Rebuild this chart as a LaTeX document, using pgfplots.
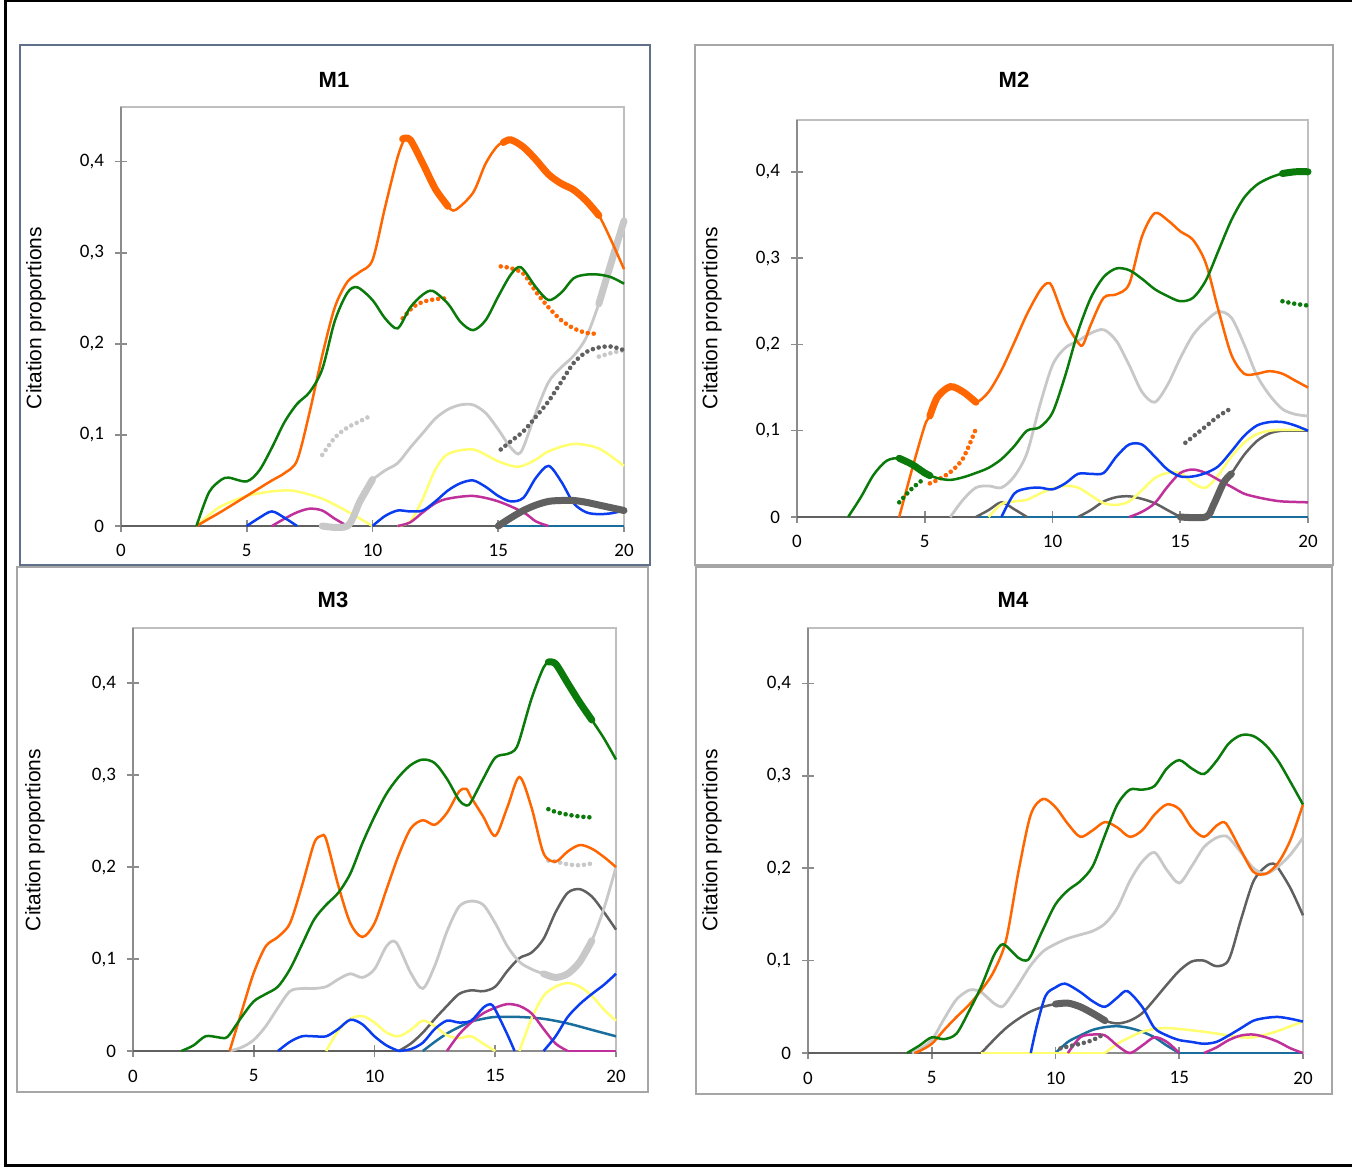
\documentclass[border=0pt]{standalone}
\usepackage{pgfplots}
\pgfplotsset{compat=1.18}
\usepackage{fontspec}
\setmainfont{Liberation Sans}
\newfontfamily\carlito{Carlito}
\definecolor{cO}{HTML}{FF6600}
\definecolor{cG}{HTML}{0A7A0A}
\definecolor{cL}{HTML}{C8C8C8}
\definecolor{cD}{HTML}{606060}
\definecolor{cY}{HTML}{FFFF70}
\definecolor{cB}{HTML}{0A3CF0}
\definecolor{cM}{HTML}{C0309A}
\definecolor{cT}{HTML}{1A6E9E}
\definecolor{frA}{HTML}{60708A}
\pgfplotsset{
  panel/.style={scale only axis, anchor=south west, clip=false,
    xmin=0, xmax=20, ymin=0, ymax=0.46,
    xtick={0,5,10,15,20}, xticklabels={0,5,10,15,20},
    ytick={0,0.1,0.2,0.3,0.4}, yticklabels={0,{0,1},{0,2},{0,3},{0,4}},
    tick align=center, major tick length=6pt,
    xtick pos=left, ytick pos=left,
    axis line style={draw=black!25, line width=1pt},
    tick style={draw=black!45, line width=0.8pt},
    ticklabel style={font=\carlito\fontsize{9.5}{11}\selectfont},
    xticklabel style={yshift=-2.8pt},
    yticklabel style={xshift=-2pt}},
  ln/.style={smooth, line width=1.25pt},
  O/.style={ln, draw=cO}, G/.style={ln, draw=cG}, L/.style={ln, draw=cL, line width=1.4pt},
  D/.style={ln, draw=cD}, Y/.style={ln, draw=cY}, B/.style={ln, draw=cB},
  M/.style={ln, draw=cM}, T/.style={ln, draw=cT},
  thk/.style={line width=3.5pt, line cap=round},
  dts/.style={line width=2.3pt, dash pattern=on 0pt off 3pt, line cap=round},
}
\newcommand{\axdeco}{\draw[black!45, line width=1pt] (rel axis cs:0,1) -- (rel axis cs:0,0) -- (rel axis cs:1,0);}
\begin{document}
\begin{tikzpicture}[x=0.5pt,y=0.5pt]
\path[use as bounding box] (0,0) rectangle (1352,1168);
\draw[line width=1.5pt] (1353,1167) -- (5,1167) -- (5,3) -- (1353,3);
% panel frames
\draw[draw=frA, line width=1pt] (20,1168-45) rectangle (650,1168-565);
\draw[draw=black!35, line width=1pt] (695,1168-45) rectangle (1333,1168-565);
\draw[draw=black!35, line width=1pt] (17,1168-567) rectangle (648,1168-1092);
\draw[draw=black!35, line width=1pt] (696,1168-567) rectangle (1332,1168-1094);
% titles and labels
\node[font=\bfseries\fontsize{11}{13}\selectfont] at (334,1168-80) {M1};
\node[font=\bfseries\fontsize{11}{13}\selectfont] at (1014,1168-80) {M2};
\node[font=\bfseries\fontsize{11}{13}\selectfont] at (333,1168-600) {M3};
\node[font=\bfseries\fontsize{11}{13}\selectfont] at (1013,1168-600) {M4};
\node[rotate=90, font=\fontsize{10.5}{12}\selectfont] at (36,1168-318) {Citation proportions};
\node[rotate=90, font=\fontsize{10.5}{12}\selectfont] at (712,1168-318) {Citation proportions};
\node[rotate=90, font=\fontsize{10.5}{12}\selectfont] at (35,1168-840) {Citation proportions};
\node[rotate=90, font=\fontsize{10.5}{12}\selectfont] at (712,1168-840) {Citation proportions};

% ================= M1 =================
\begin{axis}[panel, at={(60.5pt,321pt)}, width=251.5pt, height=209.5pt]
\axdeco
\addplot[D] coordinates {(0,0)(15,0)};
\addplot[T] coordinates {(15,0)(20,0)};
\addplot[Y] coordinates {(3,0)(3.5,0.012)(4,0.022)(5,0.033)(6,0.038)(6.5,0.039)(7,0.038)(8,0.03)(9,0.016)(10,0)};
\addplot[Y] coordinates {(11,0)(11.5,0.005)(12,0.03)(12.5,0.062)(13,0.079)(14,0.084)(15,0.071)(15.8,0.065)(16.5,0.073)(17,0.082)(18,0.09)(19,0.085)(20,0.066)};
\addplot[M] coordinates {(6,0)(6.5,0.008)(7,0.015)(7.5,0.019)(8,0.017)(8.5,0.008)(9,0)};
\addplot[M] coordinates {(11,0)(11.5,0.004)(12,0.015)(12.5,0.025)(13,0.03)(14,0.033)(15,0.027)(16,0.015)(16.5,0.005)(17,0)};
\addplot[B] coordinates {(5,0)(5.5,0.009)(6,0.016)(6.5,0.009)(7,0)};
\addplot[B] coordinates {(10,0)(10.5,0.011)(11,0.017)(11.5,0.016)(12,0.017)(12.5,0.027)(13,0.039)(13.5,0.047)(14,0.05)(14.5,0.043)(15,0.033)(15.5,0.027)(16,0.031)(16.5,0.053)(17,0.066)(17.5,0.049)(18,0.025)(18.5,0.015)(19,0.013)(19.5,0.014)(20,0.017)};
\addplot[L] coordinates {(10,0.051)(10.5,0.061)(11,0.069)(11.5,0.086)(12,0.102)(12.5,0.118)(13,0.128)(13.5,0.133)(14,0.133)(14.5,0.124)(15,0.106)(15.5,0.086)(15.9,0.081)(16.5,0.125)(17,0.158)(17.5,0.174)(18,0.187)(18.5,0.207)(19,0.244)};
\addplot[L, thk] coordinates {(8,0)(9,0)(9.5,0.027)(10,0.051)};
\addplot[L, thk] coordinates {(19,0.244)(19.5,0.29)(20,0.335)};
\addplot[L, dts] coordinates {(8,0.078)(8.5,0.097)(9,0.108)(9.5,0.115)(10,0.122)};
\addplot[L, dts] coordinates {(19,0.186)(19.5,0.19)(20,0.193)};
\addplot[O] coordinates {(3,0)(3.5,0.008)(4,0.016)(5,0.033)(6,0.05)(6.5,0.058)(7,0.072)(7.5,0.125)(8,0.187)(8.5,0.24)(9,0.268)(9.5,0.279)(10,0.292)(10.5,0.35)(11,0.405)(11.3,0.426)(11.5,0.424)(12,0.398)(12.5,0.37)(13,0.351)(13.3,0.347)(14,0.366)(14.5,0.398)(15,0.418)(15.5,0.424)(16,0.416)(16.5,0.402)(17,0.386)(17.5,0.376)(18,0.369)(18.5,0.357)(19,0.341)(19.5,0.313)(20,0.282)};
\addplot[O, thk] coordinates {(11.2,0.425)(11.5,0.424)(12,0.398)(12.5,0.37)(13,0.351)};
\addplot[O, thk] coordinates {(15.2,0.421)(15.5,0.424)(16,0.416)(16.5,0.402)(17,0.386)(17.5,0.376)(18,0.369)(18.5,0.357)(19,0.341)};
\addplot[O, dts] coordinates {(11.2,0.228)(11.6,0.24)(12,0.246)(12.5,0.249)(13,0.25)};
\addplot[O, dts] coordinates {(15.1,0.285)(15.5,0.283)(16,0.277)(16.5,0.257)(17,0.24)(17.5,0.226)(18,0.217)(18.5,0.212)(19,0.211)};
\addplot[G] coordinates {(3,0)(3.5,0.037)(4,0.051)(4.3,0.053)(5,0.049)(5.5,0.061)(6,0.086)(6.5,0.114)(7,0.134)(7.5,0.147)(8,0.172)(8.5,0.225)(9,0.256)(9.4,0.262)(10,0.248)(10.5,0.228)(11,0.217)(11.5,0.24)(12,0.254)(12.4,0.258)(13,0.244)(13.5,0.224)(14,0.215)(14.5,0.226)(15,0.252)(15.5,0.276)(15.9,0.284)(16.5,0.262)(17,0.248)(17.5,0.256)(18,0.272)(18.5,0.276)(19,0.276)(19.5,0.273)(20,0.266)};
\addplot[D, thk] coordinates {(15,0)(15.5,0.009)(16,0.017)(16.5,0.023)(17,0.027)(17.5,0.028)(18,0.028)(18.5,0.026)(19,0.023)(19.5,0.02)(20,0.017)};
\addplot[D, dts] coordinates {(15.1,0.084)(15.5,0.093)(16,0.104)(16.5,0.12)(17,0.137)(17.5,0.158)(18,0.179)(18.5,0.191)(19,0.196)(19.5,0.197)(20,0.193)};
\end{axis}

% ================= M2 =================
\begin{axis}[panel, at={(398.5pt,325.5pt)}, width=255.5pt, height=198.5pt]
\axdeco
\addplot[D] coordinates {(0,0)(7,0)};
\addplot[T] coordinates {(7,0)(20,0)};
\addplot[D] coordinates {(7,0)(7.5,0.008)(8,0.017)(8.5,0.009)(9,0)};
\addplot[D] coordinates {(11,0)(11.5,0.008)(12,0.018)(12.5,0.023)(13,0.024)(13.5,0.021)(14,0.016)(14.5,0.008)(15,0)};
\addplot[D] coordinates {(17,0.05)(17.5,0.072)(18,0.088)(18.5,0.097)(19,0.1)(19.5,0.1)(20,0.1)};
\addplot[Y] coordinates {(7.5,0)(8,0.015)(8.5,0.018)(9,0.02)(9.5,0.027)(10,0.033)(10.5,0.036)(11,0.034)(11.5,0.025)(12,0.016)(12.5,0.014)(13,0.018)(13.5,0.031)(14,0.045)(14.5,0.051)(15,0.051)(15.5,0.039)(16,0.034)(16.5,0.049)(17,0.07)(17.5,0.086)(18,0.096)(18.5,0.1)(19,0.101)(20,0.101)};
\addplot[M] coordinates {(13,0)(13.5,0.006)(14,0.016)(14.5,0.035)(15,0.051)(15.5,0.055)(16,0.051)(16.5,0.043)(17,0.035)(17.5,0.027)(18,0.023)(18.5,0.02)(19,0.018)(20,0.017)};
\addplot[B] coordinates {(8,0)(8.5,0.027)(9,0.033)(9.5,0.034)(10,0.032)(10.5,0.039)(11,0.05)(11.5,0.05)(12,0.051)(12.5,0.07)(13,0.084)(13.5,0.084)(14,0.07)(14.5,0.055)(15,0.047)(15.5,0.047)(16,0.051)(16.5,0.059)(17,0.076)(17.5,0.094)(18,0.106)(18.5,0.11)(19,0.11)(19.5,0.106)(20,0.1)};
\addplot[L] coordinates {(6,0)(6.5,0.02)(7,0.034)(7.5,0.036)(8,0.034)(8.5,0.047)(9,0.074)(9.5,0.129)(10,0.176)(10.5,0.196)(11,0.204)(11.5,0.213)(12,0.217)(12.5,0.204)(13,0.176)(13.5,0.145)(14,0.133)(14.5,0.153)(15,0.184)(15.5,0.211)(16,0.227)(16.5,0.238)(17,0.231)(17.5,0.2)(18,0.164)(18.5,0.141)(19,0.125)(19.5,0.119)(20,0.117)};
\addplot[O] coordinates {(4,0)(4.5,0.055)(5,0.106)(5.2,0.117)(5.5,0.139)(6,0.151)(6.5,0.145)(7,0.133)(7.5,0.145)(8,0.17)(8.5,0.202)(9,0.235)(9.5,0.262)(9.8,0.271)(10,0.266)(10.5,0.227)(11,0.202)(11.2,0.2)(11.5,0.223)(12,0.254)(12.5,0.258)(13,0.27)(13.5,0.325)(14,0.352)(14.5,0.344)(15,0.331)(15.5,0.321)(16,0.294)(16.5,0.239)(17,0.188)(17.5,0.166)(18,0.166)(18.5,0.169)(19,0.166)(19.5,0.158)(20,0.15)};
\addplot[O, thk] coordinates {(5.2,0.117)(5.5,0.139)(6,0.151)(6.5,0.145)(7,0.133)};
\addplot[O, dts] coordinates {(5.2,0.039)(5.5,0.043)(6,0.052)(6.5,0.068)(7,0.102)};
\addplot[G] coordinates {(2,0)(2.5,0.023)(3,0.049)(3.5,0.065)(4,0.068)(4.5,0.061)(5,0.051)(5.5,0.045)(6,0.043)(6.5,0.046)(7,0.051)(7.5,0.057)(8,0.067)(8.5,0.082)(9,0.1)(9.5,0.104)(10,0.121)(10.5,0.164)(11,0.215)(11.5,0.254)(12,0.278)(12.5,0.288)(13,0.286)(13.5,0.276)(14,0.264)(14.5,0.256)(15,0.25)(15.5,0.254)(16,0.274)(16.5,0.309)(17,0.344)(17.5,0.37)(18,0.385)(18.5,0.393)(19,0.398)(19.5,0.4)(20,0.4)};
\addplot[G, thk] coordinates {(4,0.068)(4.5,0.061)(5,0.051)(5.2,0.048)};
\addplot[G, thk] coordinates {(19,0.398)(19.5,0.4)(20,0.4)};
\addplot[G, dts] coordinates {(4,0.017)(4.5,0.033)(5,0.045)};
\addplot[G, dts] coordinates {(19,0.25)(19.5,0.247)(20,0.245)};
\addplot[D, thk] coordinates {(15,0)(16,0)(16.3,0.014)(16.7,0.04)(17,0.05)};
\addplot[D, dts] coordinates {(15.2,0.086)(16,0.105)(16.5,0.117)(17,0.126)};
\end{axis}

% ================= M3 =================
\begin{axis}[panel, at={(66.5pt,58.5pt)}, width=241.5pt, height=211.5pt]
\axdeco
\addplot[D] coordinates {(0,0)(11,0)};
\addplot[D] coordinates {(11,0)(11.5,0.008)(12,0.02)(12.5,0.035)(13,0.049)(13.5,0.062)(14,0.066)(14.5,0.065)(15,0.07)(15.5,0.087)(16,0.101)(16.5,0.107)(17,0.122)(17.5,0.151)(18,0.172)(18.5,0.176)(19,0.168)(19.5,0.151)(20,0.132)};
\addplot[T] coordinates {(12,0)(12.5,0.01)(13,0.019)(13.5,0.026)(14,0.032)(14.5,0.035)(15,0.037)(16,0.037)(17,0.035)(18,0.03)(19,0.023)(20,0.016)};
\addplot[Y] coordinates {(8,0)(8.5,0.022)(9,0.035)(9.5,0.038)(10,0.031)(10.5,0.02)(11,0.016)(11.5,0.023)(12,0.033)(12.5,0.027)(13,0.017)(13.5,0.014)(14,0.016)(14.5,0.008)(15,0)};
\addplot[Y] coordinates {(16,0)(16.5,0.035)(17,0.06)(17.5,0.07)(18,0.074)(18.5,0.07)(19,0.06)(19.5,0.045)(20,0.033)};
\addplot[M] coordinates {(13,0)(13.5,0.018)(14,0.031)(14.5,0.041)(15,0.047)(15.5,0.051)(16,0.049)(16.5,0.041)(17,0.024)(17.5,0.008)(18,0)};
\addplot[M] coordinates {(18,0)(20,0)};
\addplot[B] coordinates {(6,0)(6.5,0.01)(7,0.016)(7.5,0.016)(8,0.016)(8.5,0.024)(9,0.034)(9.5,0.029)(10,0.016)(10.5,0.006)(11,0)};
\addplot[B] coordinates {(11,0)(11.5,0.002)(12,0.009)(12.5,0.024)(13,0.033)(13.5,0.031)(14,0.033)(14.5,0.047)(14.8,0.051)(15,0.045)(15.5,0.018)(15.8,0)};
\addplot[B] coordinates {(17,0)(17.5,0.016)(18,0.037)(18.5,0.051)(19,0.062)(19.5,0.072)(20,0.084)};
\addplot[L] coordinates {(4,0)(4.5,0.004)(5,0.012)(5.5,0.027)(6,0.047)(6.5,0.065)(7,0.068)(7.5,0.068)(8,0.07)(8.5,0.078)(9,0.084)(9.5,0.08)(10,0.089)(10.5,0.114)(10.9,0.118)(11.5,0.085)(12,0.068)(12.5,0.093)(13,0.13)(13.5,0.157)(14,0.163)(14.5,0.159)(15,0.139)(15.5,0.114)(16,0.097)(16.5,0.089)(17,0.084)(17.5,0.08)(18,0.084)(18.5,0.097)(19,0.12)(19.5,0.155)(20,0.2)};
\addplot[L, thk] coordinates {(17,0.084)(17.5,0.08)(18,0.084)(18.5,0.097)(19,0.12)};
\addplot[L, dts] coordinates {(17.2,0.207)(17.5,0.206)(18,0.203)(18.5,0.202)(19,0.204)};
\addplot[O] coordinates {(4,0)(4.5,0.043)(5,0.085)(5.5,0.114)(6,0.124)(6.5,0.139)(7,0.18)(7.5,0.226)(7.8,0.234)(8,0.23)(8.5,0.18)(9,0.139)(9.5,0.124)(10,0.139)(10.5,0.176)(11,0.213)(11.5,0.242)(12,0.251)(12.5,0.246)(13,0.259)(13.5,0.282)(13.8,0.285)(14,0.276)(14.5,0.255)(15,0.234)(15.5,0.265)(16,0.298)(16.5,0.265)(17,0.215)(17.5,0.206)(18,0.217)(18.5,0.224)(19,0.22)(19.5,0.211)(20,0.2)};
\addplot[G] coordinates {(2,0)(2.5,0.006)(3,0.016)(3.5,0.015)(3.8,0.014)(4,0.018)(4.5,0.037)(5,0.054)(5.5,0.062)(6,0.07)(6.5,0.089)(7,0.116)(7.5,0.143)(8,0.159)(8.5,0.172)(9,0.193)(9.5,0.226)(10,0.255)(10.5,0.28)(11,0.298)(11.5,0.311)(12,0.317)(12.5,0.313)(13,0.296)(13.5,0.273)(13.8,0.267)(14,0.271)(14.5,0.296)(15,0.319)(15.5,0.323)(15.8,0.327)(16,0.338)(16.5,0.383)(17,0.417)(17.3,0.424)(17.5,0.421)(18,0.4)(18.5,0.379)(19,0.36)(19.5,0.34)(20,0.317)};
\addplot[G, thk] coordinates {(17.2,0.423)(17.5,0.421)(18,0.4)(18.5,0.379)(19,0.36)};
\addplot[G, dts] coordinates {(17.2,0.263)(17.5,0.26)(18,0.257)(18.5,0.255)(19,0.254)};
\end{axis}

% ================= M4 =================
\begin{axis}[panel, at={(404pt,57.5pt)}, width=247.5pt, height=212.5pt]
\axdeco
\addplot[D] coordinates {(0,0)(7,0)};
\addplot[D] coordinates {(7,0)(7.5,0.014)(8,0.027)(8.5,0.037)(9,0.045)(9.5,0.05)(10,0.053)(10.5,0.054)(11,0.05)(11.5,0.043)(12,0.035)(12.5,0.032)(13,0.035)(13.5,0.043)(14,0.058)(14.5,0.074)(15,0.089)(15.5,0.099)(16,0.1)(16.5,0.094)(17,0.101)(17.5,0.145)(18,0.186)(18.5,0.202)(18.8,0.205)(19,0.2)(19.5,0.178)(20,0.149)};
\addplot[T] coordinates {(10,0)(10.5,0.012)(11,0.019)(11.5,0.025)(12,0.028)(12.5,0.029)(13,0.027)(13.5,0.023)(14,0.017)(14.5,0.008)(15,0)};
\addplot[T] coordinates {(15,0)(20,0)};
\addplot[Y] coordinates {(7,0)(12,0)};
\addplot[Y] coordinates {(12,0)(12.5,0.01)(13,0.017)(13.5,0.023)(14,0.026)(14.5,0.027)(15,0.026)(16,0.023)(17,0.019)(17.5,0.017)(18,0.017)(18.5,0.02)(19,0.024)(19.5,0.029)(20,0.034)};
\addplot[M] coordinates {(10.5,0)(11,0.017)(11.5,0.02)(12,0.019)(12.5,0.008)(13,0)(13.5,0.008)(14,0.017)(14.5,0.012)(15,0)};
\addplot[M] coordinates {(16,0)(16.5,0.006)(17,0.014)(17.5,0.019)(18,0.02)(18.5,0.017)(19,0.012)(19.5,0.005)(20,0)};
\addplot[B] coordinates {(9,0)(9.25,0.03)(9.6,0.062)(10,0.071)(10.4,0.075)(11,0.066)(11.5,0.056)(12,0.05)(12.5,0.06)(12.9,0.067)(13.5,0.05)(14,0.027)(14.5,0.019)(15,0.014)(15.5,0.012)(16,0.01)(16.5,0.012)(17,0.019)(17.5,0.027)(18,0.035)(18.5,0.038)(19,0.039)(19.5,0.037)(20,0.034)};
\addplot[L] coordinates {(4.2,0)(4.5,0.004)(5,0.014)(5.5,0.037)(6,0.058)(6.5,0.068)(6.8,0.068)(7,0.066)(7.5,0.054)(7.8,0.05)(8,0.054)(8.5,0.074)(9,0.095)(9.5,0.11)(10,0.118)(10.5,0.124)(11,0.128)(11.5,0.132)(12,0.14)(12.5,0.157)(13,0.186)(13.5,0.207)(14,0.217)(14.5,0.198)(15,0.184)(15.5,0.202)(16,0.223)(16.5,0.233)(16.8,0.235)(17,0.233)(17.5,0.217)(18,0.2)(18.5,0.194)(19,0.202)(19.5,0.215)(20,0.233)};
\addplot[O] coordinates {(4.3,0)(4.5,0.002)(5,0.01)(5.5,0.025)(6,0.039)(6.5,0.052)(7,0.068)(7.5,0.088)(8,0.122)(8.5,0.196)(9,0.258)(9.5,0.275)(10,0.266)(10.5,0.248)(11,0.234)(11.5,0.241)(12,0.25)(12.5,0.244)(13,0.234)(13.5,0.241)(14,0.258)(14.5,0.269)(15,0.264)(15.5,0.244)(16,0.234)(16.5,0.246)(16.8,0.25)(17,0.244)(17.5,0.219)(18,0.196)(18.5,0.194)(19,0.206)(19.5,0.231)(20,0.269)};
\addplot[G] coordinates {(4,0)(4.5,0.008)(5,0.017)(5.5,0.015)(6,0.021)(6.5,0.045)(7,0.072)(7.5,0.105)(7.8,0.117)(8,0.116)(8.5,0.103)(8.8,0.1)(9,0.105)(9.5,0.134)(10,0.161)(10.5,0.176)(11,0.186)(11.5,0.202)(12,0.236)(12.5,0.269)(13,0.285)(13.5,0.285)(14,0.289)(14.5,0.308)(15,0.317)(15.5,0.308)(16,0.302)(16.5,0.316)(17,0.335)(17.5,0.344)(18,0.343)(18.5,0.333)(19,0.316)(19.5,0.293)(20,0.269)};
\addplot[D, thk] coordinates {(10,0.053)(10.5,0.054)(11,0.05)(11.5,0.043)(12,0.035)};
\addplot[D, dts] coordinates {(10.2,0.005)(10.5,0.007)(11,0.01)(11.5,0.014)(12,0.021)};
\end{axis}
\end{tikzpicture}
\end{document}
